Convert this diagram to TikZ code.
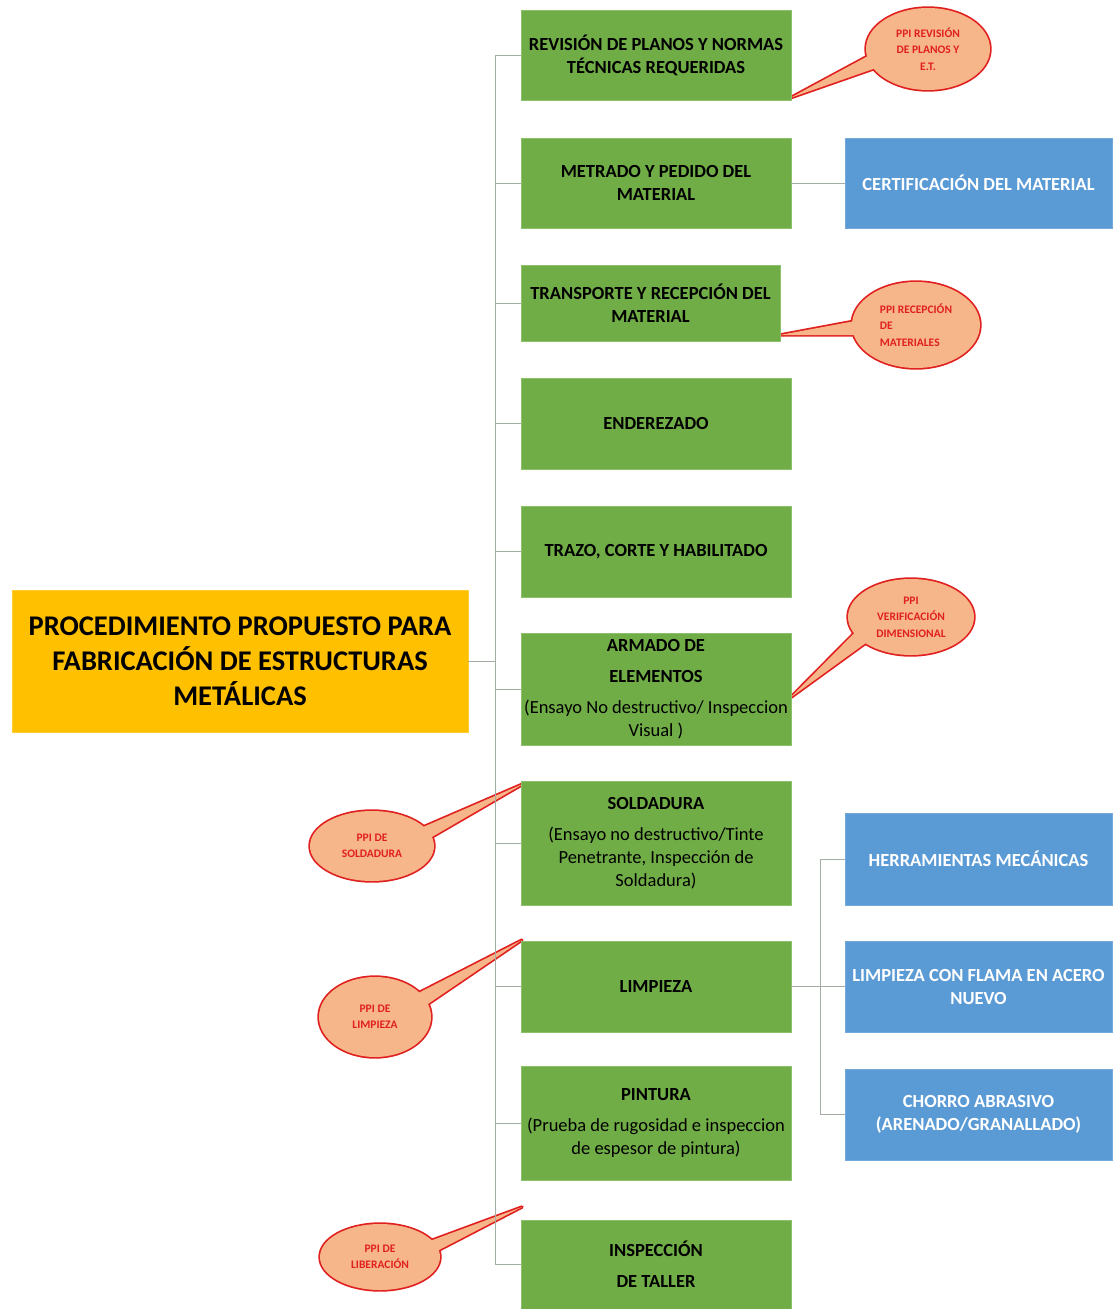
\documentclass[tikz,border=0pt]{standalone}
\usepackage{fontspec}
\setmainfont{Carlito}
\usetikzlibrary{calc}
\definecolor{grn}{HTML}{70AD47}
\definecolor{grnb}{HTML}{8CC06A}
\definecolor{blu}{HTML}{5B9BD5}
\definecolor{orng}{HTML}{FFC000}
\definecolor{callfill}{HTML}{F7B58A}
\definecolor{callred}{HTML}{E0201F}
\definecolor{linec}{HTML}{A3AEA3}
\pgfdeclarelayer{bgstroke}\pgfdeclarelayer{bgfill}
\pgfsetlayers{bgstroke,bgfill,main}
\newcommand\ppishape[5]{%
 \begin{pgfonlayer}{bgstroke}
  \draw[callred, line width=3.4, line join=round] (#1.center) ellipse [x radius=#2, y radius=#3];
  \draw[callred, line width=3.4, line join=round] ($(#1.center)+(#4-11:#2*0.9 and #3*0.9)$) -- (#5) -- ($(#1.center)+(#4+11:#2*0.9 and #3*0.9)$) -- cycle;
 \end{pgfonlayer}
 \begin{pgfonlayer}{bgfill}
  \fill[callfill] (#1.center) ellipse [x radius=#2, y radius=#3];
  \fill[callfill] ($(#1.center)+(#4-11:#2*0.9 and #3*0.9)$) -- (#5) -- ($(#1.center)+(#4+11:#2*0.9 and #3*0.9)$) -- cycle;
 \end{pgfonlayer}}
\begin{document}
\begin{tikzpicture}[x=1pt,y=1pt,
 gbox/.style={rectangle, fill=grn, draw=grnb, line width=0.8, minimum width=270, minimum height=#1, align=center, inner sep=1, font=\fontsize{18.5}{23}\selectfont},
 bbox/.style={rectangle, fill=blu, draw=blu!85!white, line width=0.8, minimum width=267, minimum height=#1, align=center, inner sep=1, text=white, font=\bfseries\fontsize{18.5}{23}\selectfont},
 mbox/.style={rectangle, fill=orng, draw=orng!80!white, line width=0.8, minimum width=456, minimum height=142, align=center, font=\bfseries\fontsize{28.5}{35}\selectfont},
 ppitext/.style={text=callred, align=center, inner sep=0, font=\bfseries\fontsize{11.5}{16.5}\selectfont},
 conn/.style={draw=linec, line width=1}]
\useasboundingbox (0,0) rectangle (1114,-1309);

% main box
\node[mbox] (main) at (240,-661) {PROCEDIMIENTO PROPUESTO PARA\\FABRICACIÓN DE ESTRUCTURAS\\METÁLICAS};

% green steps
\node[gbox=90] (g1) at (656,-55) {\textbf{REVISIÓN DE PLANOS Y NORMAS}\\\textbf{TÉCNICAS REQUERIDAS}};
\node[gbox=90] (g2) at (656,-183) {\textbf{METRADO Y PEDIDO DEL}\\\textbf{MATERIAL}};
\node[gbox=76, minimum width=259] (g3) at (650.5,-303) {\textbf{TRANSPORTE Y RECEPCIÓN DEL}\\\textbf{MATERIAL}};
\node[gbox=91] (g4) at (656,-423.5) {\textbf{ENDEREZADO}};
\node[gbox=91] (g5) at (656,-551.5) {\textbf{TRAZO, CORTE Y HABILITADO}};
\node[gbox=112] (g6) at (656,-689) {\textbf{ARMADO DE}\\[8pt]\textbf{ELEMENTOS}\\[8pt](Ensayo No destructivo/ Inspeccion\\Visual )};
\node[gbox=124] (g7) at (656,-843) {\textbf{SOLDADURA}\\[8pt](Ensayo no destructivo/Tinte\\Penetrante, Inspección de\\Soldadura)};
\node[gbox=91] (g8) at (656,-986.5) {\textbf{LIMPIEZA}};
\node[gbox=114] (g9) at (656,-1123) {\textbf{PINTURA}\\[8pt](Prueba de rugosidad e inspeccion\\de espesor de pintura)};
\node[gbox=89] (g10) at (656,-1264.5) {\textbf{INSPECCIÓN}\\[8pt]\textbf{DE TALLER}};

% blue boxes
\node[bbox=90] (b1) at (978.5,-183) {CERTIFICACIÓN DEL MATERIAL};
\node[bbox=92] (b2) at (978.5,-859) {HERRAMIENTAS MECÁNICAS};
\node[bbox=91] (b3) at (978.5,-986.5) {LIMPIEZA CON FLAMA EN ACERO\\NUEVO};
\node[bbox=91] (b4) at (978.5,-1114.5) {CHORRO ABRASIVO\\(ARENADO/GRANALLADO)};

% connectors
\coordinate (trunk) at (495,0);
\coordinate (bt) at (820,0);
\draw[conn] (g1.west -| trunk) -- (g10.west -| trunk);
\draw[conn] (main.east) -- (main.east -| trunk);
\foreach \g in {g1,g2,g3,g4,g5,g6,g7,g8,g9,g10}{\draw[conn] (\g.west -| trunk) -- (\g.west);}
\draw[conn] (g2.east) -- (b1.west);
\draw[conn] (g8.east) -- (g8.east -| bt);
\draw[conn] (b2.west -| bt) -- (b4.west -| bt);
\foreach \b in {b2,b3,b4}{\draw[conn] (\b.west -| bt) -- (\b.west);}

% callouts
\coordinate (t1) at (790,-98);
\coordinate (t2) at (780,-335);
\coordinate (t3) at (790,-698);
\coordinate (t4) at (525,-783);
\coordinate (t5) at (522,-940);
\coordinate (t6) at (522,-1207);
\node[ppitext] (c1) at (928,-49) {PPI REVISIÓN\\DE PLANOS Y\\E.T.};
\node[ppitext, align=left] (c2) at (916,-325) {PPI RECEPCIÓN\\DE\\MATERIALES};
\node[ppitext] (c3) at (911,-617) {PPI\\VERIFICACIÓN\\DIMENSIONAL};
\node[ppitext] (c4) at (372,-846) {PPI DE\\SOLDADURA};
\node[ppitext] (c5) at (375,-1017) {PPI DE\\LIMPIEZA};
\node[ppitext] (c6) at (380,-1257) {PPI DE\\LIBERACIÓN};
\ppishape{c1}{62}{41}{198}{t1}
\ppishape{c2}{64}{43}{184}{t2}
\ppishape{c3}{63}{38}{212}{t3}
\ppishape{c4}{62}{35}{22}{t4}
\ppishape{c5}{56}{40}{27}{t5}
\ppishape{c6}{60}{33}{19}{t6}
\end{tikzpicture}
\end{document}
